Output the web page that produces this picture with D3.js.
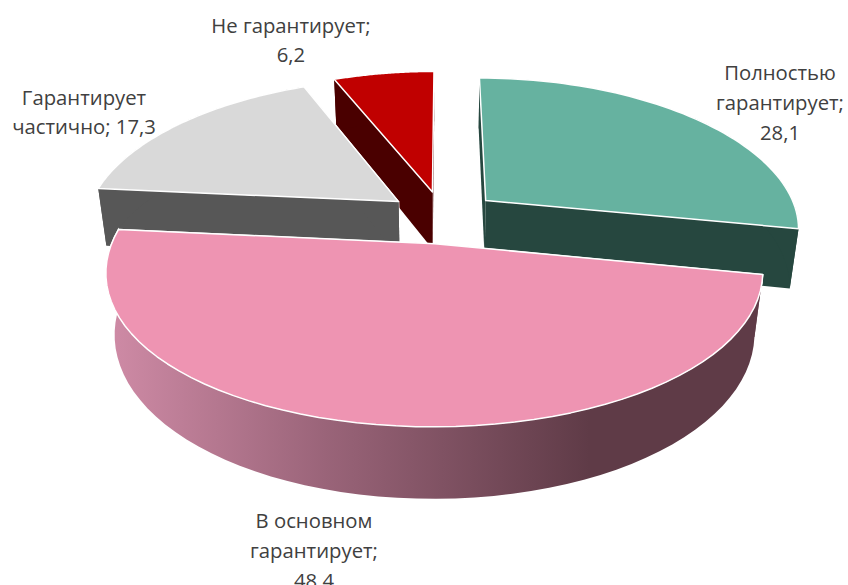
<!DOCTYPE html>
<html>
<head>
<meta charset="utf-8">
<script src="https://cdn.jsdelivr.net/npm/d3@7"></script>
<style>
  html, body { margin: 0; background: #fff; overflow: hidden; }
  text { font-family: "Open Sans", "Lato", sans-serif; font-size: 20.3px; fill: #404040; text-anchor: middle; }
</style>
</head>
<body>
<svg width="848" height="585"></svg>
<script>
var categories = ["Полностью гарантирует", "В основном гарантирует", "Гарантирует частично", "Не гарантирует"];
var values = [28.1, 48.4, 17.3, 6.2];
var topColors = ["#66b2a0", "#ee94b2", "#d9d9d9", "#c00000"];
var sideColors = ["#26473f", "url(#pinkSide)", "#575757", "#4a0000"];
var labelLines = [
  ["Полностью", "гарантирует;", "28,1"],
  ["В основном", "гарантирует;", "48,4"],
  ["Гарантирует", "частично; 17,3"],
  ["Не гарантирует;", "6,2"]
];
var labelPos = [[780, 80, 30], [314, 528, 30], [84, 105, 29], [291, 33, 29]];

var svg = d3.select("svg");

// flat disc coordinates -> screen, with a bit of perspective
var cx = 443, cy = 217, rx = 313, tilt = 146, thick = 59;
var perspX = 0.175, perspY = 0.153, perspDown = 0.025, explode = 0.18;

function project(x, z, h) {
  var fx = 1 / (1 + perspX * z + perspDown * h);
  var fy = 1 / (1 + perspY * z);
  return [cx + rx * x * fx, cy + (-tilt * z + thick * h) * fy];
}

var pie = d3.pie().sort(null).value(function(d) { return d; });
var arcs = pie(values);

var line = d3.line();

function rimPoint(d, a, h) {
  var mid = (d.startAngle + d.endAngle) / 2;
  var ox = explode * Math.sin(mid), oz = explode * Math.cos(mid);
  return project(ox + Math.sin(a), oz + Math.cos(a), h);
}
function apex(d, h) {
  var mid = (d.startAngle + d.endAngle) / 2;
  return project(explode * Math.sin(mid), explode * Math.cos(mid), h);
}
function rimAngles(d) {
  return d3.range(0, 61).map(function(i) {
    return d.startAngle + (d.endAngle - d.startAngle) * i / 60;
  });
}

var defs = svg.append("defs");
var grad = defs.append("linearGradient")
  .attr("id", "pinkSide")
  .attr("gradientUnits", "userSpaceOnUse")
  .attr("x1", 108).attr("x2", 590).attr("y1", 0).attr("y2", 0);
grad.append("stop").attr("offset", "0").attr("stop-color", "#cf8ba6");
grad.append("stop").attr("offset", "0.45").attr("stop-color", "#9a6479");
grad.append("stop").attr("offset", "1").attr("stop-color", "#5f3b47");

// back slices first, the big pink one last
var order = [3, 2, 0, 1];

order.forEach(function(i) {
  var d = arcs[i];
  var g = svg.append("g");
  var angles = rimAngles(d);

  var walls = [d.startAngle, d.endAngle].map(function(a) {
    return line([apex(d, 0), rimPoint(d, a, 0), rimPoint(d, a, 1), apex(d, 1)]) + "Z";
  });
  walls.push(line(angles.map(function(a) { return rimPoint(d, a, 0); })
    .concat(angles.slice().reverse().map(function(a) { return rimPoint(d, a, 1); }))) + "Z");

  // white outline pass, then plain fills so only the silhouette stays white
  g.selectAll("path.edge").data(walls).enter().append("path")
    .attr("class", "edge")
    .attr("d", function(p) { return p; })
    .attr("fill", "none")
    .attr("stroke", "#fff").attr("stroke-width", 1.2);
  g.selectAll("path.wall").data(walls).enter().append("path")
    .attr("class", "wall")
    .attr("d", function(p) { return p; })
    .attr("fill", sideColors[i]);

  // top
  var top = [apex(d, 0)].concat(angles.map(function(a) { return rimPoint(d, a, 0); }));
  g.append("path")
    .attr("d", line(top) + "Z")
    .attr("fill", topColors[i])
    .attr("stroke", "#fff").attr("stroke-width", 1.5)
    .attr("stroke-linejoin", "round");
});

labelLines.forEach(function(lines, i) {
  var t = svg.append("text").attr("x", labelPos[i][0]).attr("y", labelPos[i][1]);
  lines.forEach(function(s, j) {
    t.append("tspan").attr("x", labelPos[i][0]).attr("y", labelPos[i][1] + j * labelPos[i][2]).text(s);
  });
});
</script>
</body>
</html>
